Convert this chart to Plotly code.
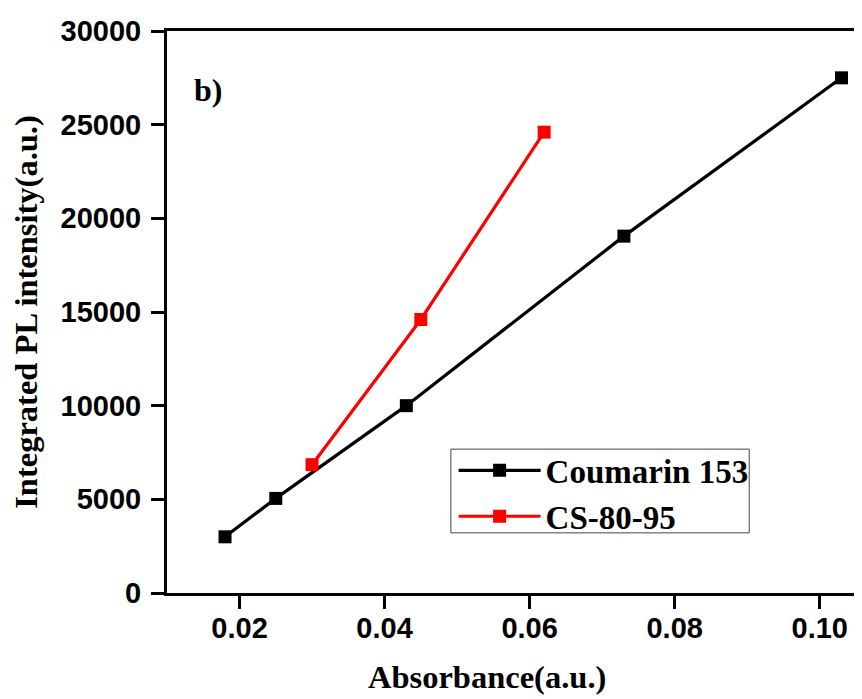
import plotly.graph_objects as go

coumarin_x = [0.018, 0.025, 0.043, 0.073, 0.103]
coumarin_y = [3000, 5050, 10000, 19050, 27500]
cs_x = [0.030, 0.045, 0.062]
cs_y = [6850, 14600, 24600]

x_ticks = [0.02, 0.04, 0.06, 0.08, 0.10]
x_ticklabels = ["0.02", "0.04", "0.06", "0.08", "0.10"]
y_ticks = [0, 5000, 10000, 15000, 20000, 25000, 30000]
y_ticklabels = ["0", "5000", "10000", "15000", "20000", "25000", "30000"]

serif = "Liberation Serif"
sans = "Liberation Sans"

fig = go.Figure()
fig.add_trace(go.Scatter(
    x=coumarin_x, y=coumarin_y, mode="lines+markers", name="<b>Coumarin 153</b>",
    line=dict(color="black", width=3.2),
    marker=dict(symbol="square", size=13, color="black"),
    legendgroup="a",
))
fig.add_trace(go.Scatter(
    x=cs_x, y=cs_y, mode="lines+markers", name="<b>CS-80-95</b>",
    line=dict(color="#ff0000", width=3.2),
    marker=dict(symbol="square", size=13, color="#ff0000"),
    legendgroup="b",
))

axis_common = dict(
    showline=True, linecolor="black", linewidth=3, mirror=True,
    ticks="outside", ticklen=13, tickwidth=3, tickcolor="black",
    showgrid=False, zeroline=False,
    tickfont=dict(family=sans, size=29, color="black", weight="bold"),
)

fig.update_layout(
    width=854, height=691,
    paper_bgcolor="white", plot_bgcolor="white",
    margin=dict(l=159, r=3, t=23, b=106),
    showlegend=True,
    legend=dict(
        x=0.416, y=0.268, xanchor="left", yanchor="top",
        borderwidth=0, bgcolor="rgba(0,0,0,0)",
        font=dict(family=serif, size=33, color="black"),
        itemwidth=82, tracegroupgap=0,
    ),
    shapes=[dict(
        type="rect", xref="paper", yref="paper",
        x0=0.412, x1=0.845, y0=0.107, y1=0.256,
        line=dict(color="#444", width=1), fillcolor="white", layer="above",
    )],
    xaxis=dict(
        range=[0.01, 0.105], tickvals=x_ticks, ticktext=x_ticklabels,
        ticklabelstandoff=-6,
        **axis_common,
    ),
    yaxis=dict(
        range=[0, 30000], tickvals=y_ticks, ticktext=y_ticklabels,
        ticklabelstandoff=4,
        title=dict(text="<b>Integrated PL intensity(a.u.)</b>", font=dict(family=serif, size=32.5, color="black"), standoff=14),
        **axis_common,
    ),
    annotations=[
        dict(
            text="<b>b)</b>", x=0.06, y=0.895, xref="paper", yref="paper",
            xanchor="center", yanchor="middle", showarrow=False,
            font=dict(family=serif, size=32, color="black"),
        ),
        dict(
            text="<b>Absorbance(a.u.)</b>", x=0.465, y=-0.150, xref="paper", yref="paper",
            xanchor="center", yanchor="middle", showarrow=False,
            font=dict(family=serif, size=32.5, color="black"),
        ),
    ],
)

fig.write_html("out.html")
